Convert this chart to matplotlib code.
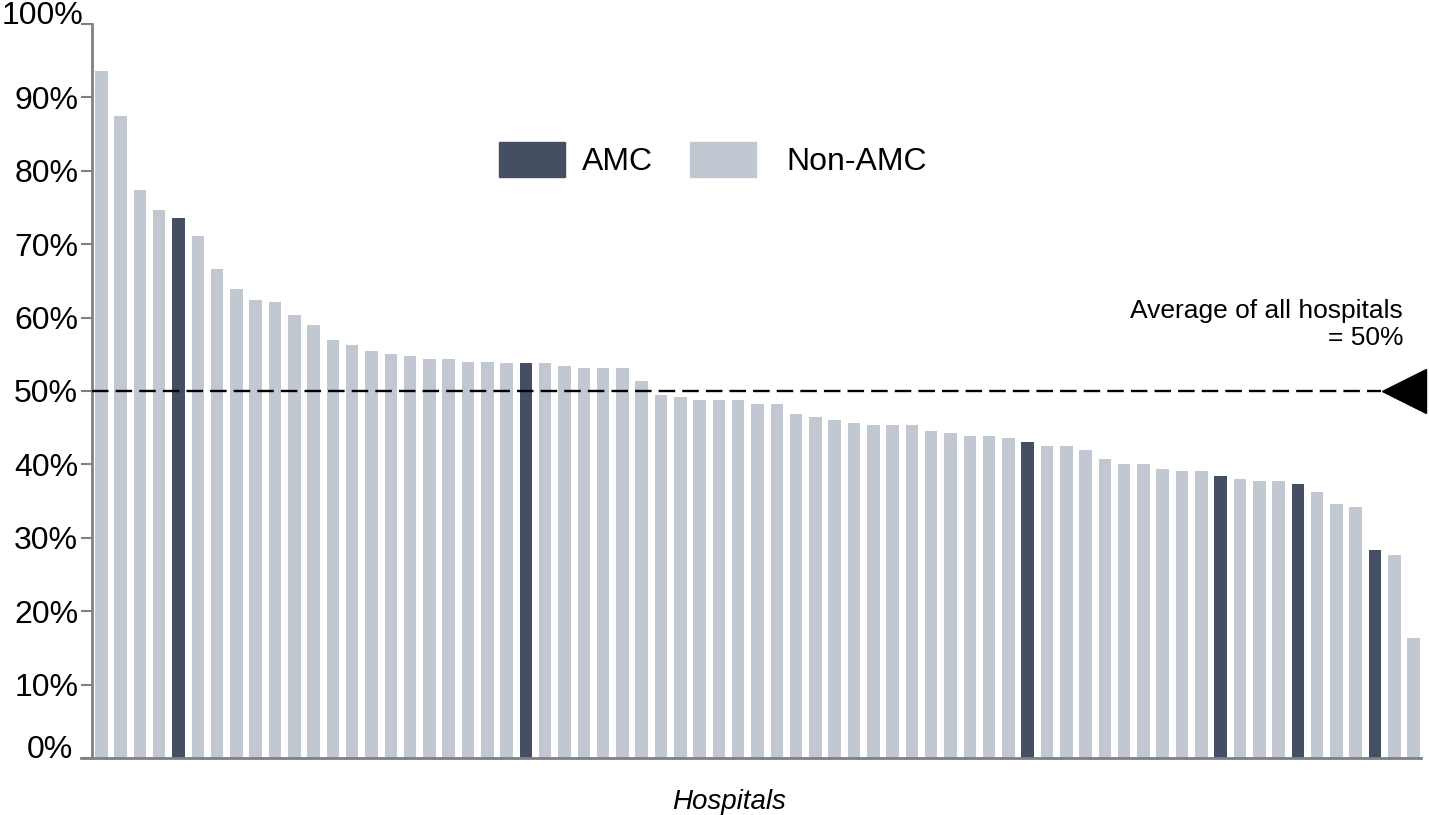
import matplotlib
matplotlib.use("Agg")
import matplotlib.pyplot as plt
from matplotlib.patches import Patch
from matplotlib.transforms import ScaledTranslation

plt.rcParams['font.family'] = ['Liberation Sans', 'DejaVu Sans']

# share of patients per hospital, sorted high to low
values = [93.6, 87.4, 77.4, 74.6, 73.6, 71.1, 66.6, 63.9, 62.4, 62.1,
          60.3, 59.0, 56.9, 56.2, 55.4, 55.1, 54.7, 54.4, 54.4, 54.0,
          54.0, 53.8, 53.8, 53.8, 53.4, 53.1, 53.1, 53.1, 51.3, 49.5,
          49.2, 48.8, 48.8, 48.8, 48.2, 48.2, 46.8, 46.4, 46.1, 45.7,
          45.4, 45.4, 45.4, 44.6, 44.3, 43.9, 43.9, 43.6, 43.0, 42.5,
          42.5, 41.9, 40.8, 40.1, 40.1, 39.4, 39.1, 39.1, 38.4, 38.0,
          37.8, 37.8, 37.3, 36.3, 34.6, 34.2, 28.3, 27.6, 16.4]
amc_idx = [4, 22, 48, 58, 62, 66]   # 0-based positions of the AMC hospitals
average = 50
yticks = list(range(0, 101, 10))
ytick_labels = [f"{t}%" for t in yticks]

dark = '#444F63'
light = '#C1C8D1'
grey = '#808080'

fig = plt.figure(figsize=(14.29, 8.15), dpi=100)
ax = fig.add_axes([0.0644, 0.0699, 0.9300, 0.9007])

colors = [dark if i in amc_idx else light for i in range(len(values))]
ax.bar(range(len(values)), values, width=0.65, color=colors, zorder=2)

ax.set_xlim(-0.48, len(values) - 1 + 0.38)
ax.set_ylim(0, 100)
ax.set_xticks([])
ax.set_yticks(yticks)
ax.set_yticklabels(ytick_labels, fontsize=23)
ax.tick_params(axis='y', length=8, width=1.5, color=grey, pad=2)
# end labels sit on their tick like in the original
for lbl in ax.get_yticklabels():
    if lbl.get_text() == '0%':
        lbl.set_va('baseline')
        lbl.set_transform(lbl.get_transform() + ScaledTranslation(-0.05, 0, fig.dpi_scale_trans))
    elif lbl.get_text() == '100%':
        lbl.set_va('baseline')
        lbl.set_transform(lbl.get_transform() + ScaledTranslation(0.05, 0, fig.dpi_scale_trans))

for side in ('top', 'right'):
    ax.spines[side].set_visible(False)
for side in ('left', 'bottom'):
    ax.spines[side].set_color(grey)
    ax.spines[side].set_linewidth(2)
ax.spines['bottom'].set_bounds(-0.48 - 0.57, len(values) - 1 + 0.38)

# average line with the pointer at the right
tr = ax.get_yaxis_transform()
ax.plot([0, 0.97], [average, average], transform=tr, color='black',
        lw=1.7, dashes=(7, 3), zorder=3)
ax.plot([0.987], [average], transform=tr, marker='<', ms=31,
        color='black', clip_on=False, zorder=4)
ax.text(0.9865, 55.6, "Average of all hospitals\n= 50%", transform=tr,
        ha='right', va='bottom', fontsize=19, linespacing=1.15)

ax.set_xlabel("Hospitals", fontsize=20, style='italic', labelpad=22, x=0.479)

leg_kw = dict(loc='upper left', frameon=False, fontsize=23, handlelength=2.07,
              handleheight=1.3, borderpad=0, borderaxespad=0)
leg1 = fig.legend(handles=[Patch(color=dark, label='AMC')],
                  bbox_to_anchor=(0.349, 0.826), handletextpad=0.53, **leg_kw)
leg2 = fig.legend(handles=[Patch(color=light, label='Non-AMC')],
                  bbox_to_anchor=(0.483, 0.826), handletextpad=0.95, **leg_kw)

fig.savefig("out.png", dpi=100)
